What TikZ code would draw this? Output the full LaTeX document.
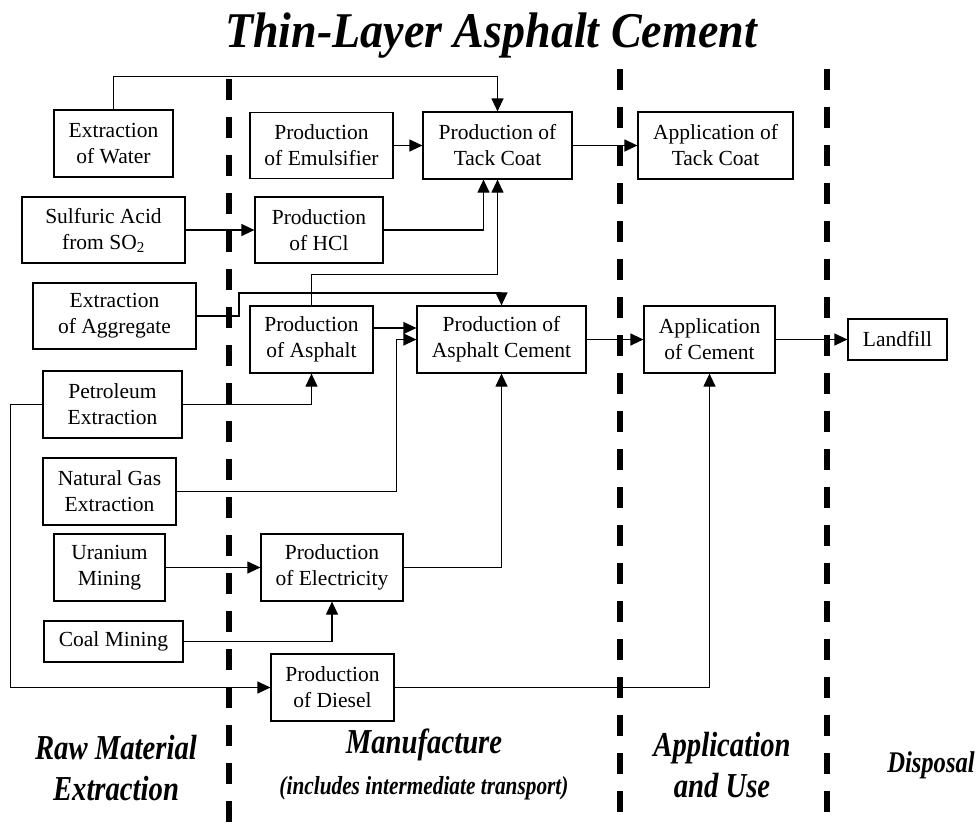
\documentclass[tikz,border=0pt]{standalone}
\usepackage{fontspec}
\setmainfont{Liberation Serif}
\newfontfamily\stagefont[FakeStretch=0.82]{Liberation Serif}
\newfontfamily\titlefont[FakeStretch=0.92]{Liberation Serif}
\usetikzlibrary{arrows.meta}
\tikzset{
box/.style 2 args={draw, line width=1.2pt, align=center, inner sep=0pt, minimum width=#1pt, minimum height=#2pt, font=\fontsize{21.5}{26}\selectfont},
link/.style={line width=1.2pt, -{Triangle[length=13pt, width=12pt]}},
phase/.style={line width=5.5pt, dash pattern=on 21pt off 17pt},
stage/.style={align=center, font=\stagefont\bfseries\itshape\fontsize{35}{41}\selectfont},
}

\begin{document}
\begin{tikzpicture}[x=1pt, y=-1pt]
    \useasboundingbox (0,0) rectangle (977,823);

    %title
    \node[anchor=base, font=\titlefont\bfseries\itshape\fontsize{50}{60}\selectfont] (title) at (491,47) {Thin-Layer Asphalt Cement};

    %raw material extraction
    \node[box={119}{67}]  (water) at (113.5,143.5) {Extraction\\of Water};
    \node[box={163}{66}]   (sulf) at (103.5,230)   {Sulfuric Acid\\from SO\textsubscript{2}};
    \node[box={163}{66}]   (aggr) at (114.5,316)   {Extraction\\of Aggregate};
    \node[box={139}{67}] (petrol) at (112.5,404.5) {Petroleum\\Extraction};
    \node[box={133}{67}] (natgas) at (109.5,491.5) {Natural Gas\\Extraction};
    \node[box={111}{67}]   (uran) at (109.5,567.5) {Uranium\\Mining};
    \node[box={139}{41}]   (coal) at (113.5,641.5) {Coal Mining};

    %manufacture
    \node[box={143}{66}]  (emuls) at (321.5,145.5) {Production\\of Emulsifier};
    \node[box={149}{67}]   (tack) at (497.5,145.5) {Production of\\Tack Coat};
    \node[box={128}{66}]    (hcl) at (319,230)     {Production\\of HCl};
    \node[box={123}{67}]   (asph) at (311.5,339.5) {Production\\of Asphalt};
    \node[box={169}{67}] (cement) at (501.5,339.5) {Production of\\Asphalt Cement};
    \node[box={142}{67}]   (elec) at (332,567.5)   {Production\\of Electricity};
    \node[box={123}{67}] (diesel) at (332.5,687.5) {Production\\of Diesel};

    %application and use, disposal
    \node[box={155}{67}] (apptack) at (715.5,145.5) {Application of\\Tack Coat};
    \node[box={131}{67}]  (appcem) at (709.5,339.5) {Application\\of Cement};
    \node[box={99}{41}] (landfill) at (897.5,339.5) {Landfill};

    %links into tack coat
    \draw[link] (water.north) -- ++(0,-33) -| (tack.north);
    \draw[link] (emuls.east) -- (tack.west);
    \draw[link] (sulf.east) -- (hcl.west);
    \draw[link] (hcl.east) -| ([xshift=-14pt]tack.south);
    \draw[link] (asph.north) -- ++(0,-31) -| (tack.south);

    %links into asphalt cement
    \draw[link] (aggr.east) -| (239,293) -| (cement.north);
    \draw[link] ([yshift=11.5pt]asph.east) -- ([yshift=11.5pt]cement.west);
    \draw[link] (natgas.east) -| ([xshift=-20pt]cement.west) -- (cement.west);
    \draw[link] (elec.east) -| (cement.south);
    \draw[link] (uran.east) -- (elec.west);
    \draw[link] (coal.east) -| (elec.south);
    \draw[link] (petrol.east) -| (asph.south);
    \draw[link] (petrol.west) -- ++(-32,0) |- (diesel.west);

    %links to use and disposal
    \draw[link] (diesel.east) -| (appcem.south);
    \draw[link] (tack.east) -- (apptack.west);
    \draw[link] (cement.east) -- (appcem.west);
    \draw[link] (appcem.east) -- (landfill.west);

    %stage borders
    \draw[phase] (229,79) -- (229,823);
    \draw[phase] (620,69) -- (620,812);
    \draw[phase] (827,69) -- (827,812);

    %stage labels
    \node[stage] (rawlbl) at (116,768) {Raw Material\\Extraction};
    \node[stage] (manlbl) at (424,764) {Manufacture\\\fontsize{26}{30}\selectfont(includes intermediate transport)};
    \node[stage] (uselbl) at (722,765) {Application\\and Use};
    \node[stage, font=\stagefont\bfseries\itshape\fontsize{30}{36}\selectfont] (displbl) at (931,765) {Disposal};

\end{tikzpicture}
\end{document}
